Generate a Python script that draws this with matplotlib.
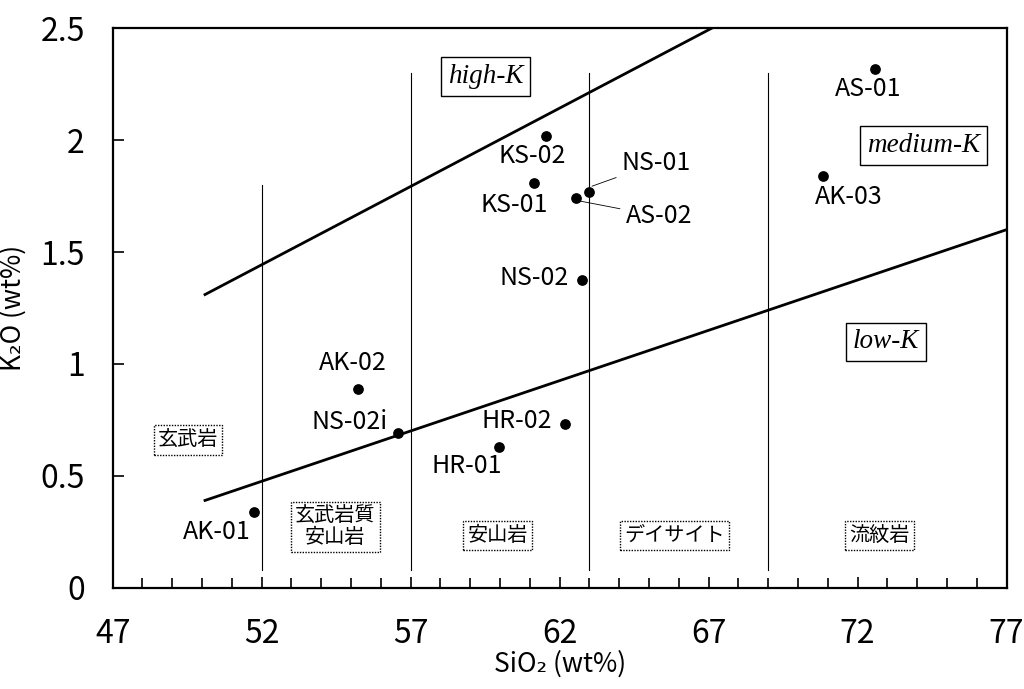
import matplotlib
matplotlib.use("Agg")
import matplotlib.pyplot as plt
from matplotlib.ticker import MultipleLocator

plt.rcParams['font.family'] = ['Noto Sans CJK JP', 'DejaVu Sans']

# sample points: SiO2, K2O
names = ["AS-01", "KS-02", "KS-01", "NS-01", "AS-02", "AK-03",
         "NS-02", "AK-02", "NS-02i", "HR-02", "HR-01", "AK-01"]
sio2 = [72.57, 61.53, 61.13, 62.97, 62.54, 70.83,
        62.74, 55.25, 56.56, 62.17, 59.95, 51.73]
k2o = [2.32, 2.02, 1.81, 1.77, 1.74, 1.84,
       1.375, 0.89, 0.69, 0.73, 0.63, 0.34]

# boundary lines
highk_x = [50.1, 67.1]
highk_y = [1.31, 2.5]
lowk_x = [50.1, 77.0]
lowk_y = [0.39, 1.60]

# rock type dividers: x, top
div_x = [52, 57, 63, 69]
div_top = [1.8, 2.3, 2.3, 2.3]
div_bottom = 0.08

rock_names = ["玄武岩", "玄武岩質\n安山岩", "安山岩", "デイサイト", "流紋岩"]
rock_pos = [(49.52, 0.66), (54.47, 0.27), (59.92, 0.232), (65.86, 0.232), (72.74, 0.232)]

k_names = ["high-K", "medium-K", "low-K"]
k_pos = [(59.52, 2.285), (74.21, 1.975), (72.94, 1.098)]

x_ticks = [47, 52, 57, 62, 67, 72, 77]
y_ticks = [0, 0.5, 1, 1.5, 2, 2.5]
y_tick_labels = ["0", "0.5", "1", "1.5", "2", "2.5"]

fig = plt.figure(figsize=(10.24, 6.89), dpi=100)
ax = fig.add_axes([0.110, 0.147, 0.873, 0.812])

ax.plot(highk_x, highk_y, color="black", lw=2)
ax.plot(lowk_x, lowk_y, color="black", lw=2)
for x, top in zip(div_x, div_top):
    ax.plot([x, x], [div_bottom, top], color="black", lw=0.8)

ax.scatter(sio2, k2o, s=45, color="black", zorder=5)

fs = 18
# label placement (text position, alignment)
lab = {
    "AS-01": (72.35, 2.23, "center"),
    "KS-02": (61.09, 1.93, "center"),
    "KS-01": (60.49, 1.71, "center"),
    "AK-03": (71.7, 1.745, "center"),
    "NS-02": (62.3, 1.384, "right"),
    "AK-02": (55.05, 1.005, "center"),
    "NS-02i": (54.95, 0.74, "center"),
    "HR-02": (61.73, 0.745, "right"),
    "HR-01": (58.88, 0.545, "center"),
    "AK-01": (50.49, 0.25, "center"),
}
for n, x, y in zip(names, sio2, k2o):
    if n in lab:
        tx, ty, ha = lab[n]
        ax.text(tx, ty, n, fontsize=fs, ha=ha, va="center")

# leader lines
ax.annotate("NS-01", xy=(63.0, 1.79), xytext=(64.08, 1.897), fontsize=fs,
            ha="left", va="center",
            arrowprops=dict(arrowstyle="-", lw=0.6, color="black", shrinkA=2, shrinkB=2))
ax.annotate("AS-02", xy=(62.6, 1.73), xytext=(64.21, 1.66), fontsize=fs,
            ha="left", va="center",
            arrowprops=dict(arrowstyle="-", lw=0.6, color="black", shrinkA=2, shrinkB=2))

for t, (x, y) in zip(k_names, k_pos):
    ax.text(x, y, t, fontsize=19.5, ha="center", va="center", style="italic",
            family="Liberation Serif",
            bbox=dict(boxstyle="square,pad=0.25", fc="white", ec="black", lw=1))

for t, (x, y) in zip(rock_names, rock_pos):
    ax.text(x, y, t, fontsize=14.5, ha="center", va="center",
            linespacing=1.0,
            bbox=dict(boxstyle="square,pad=0.2", fc="white", ec="black", lw=1,
                      linestyle=(0, (1, 1))))

ax.set_xlim(47, 77)
ax.set_ylim(0, 2.5)
ax.set_xticks(x_ticks)
ax.xaxis.set_minor_locator(MultipleLocator(1))
ax.set_yticks(y_ticks)
ax.set_yticklabels(y_tick_labels)
ax.tick_params(axis="both", which="both", direction="in", width=1.2)
ax.tick_params(axis="x", which="major", length=8, pad=22, labelsize=23)
ax.tick_params(axis="x", which="minor", length=7)
ax.tick_params(axis="y", which="major", length=8, pad=20, labelsize=23)
for s in ax.spines.values():
    s.set_linewidth(1.6)

ax.set_xlabel("SiO₂ (wt%)", fontsize=19, labelpad=0)
ax.set_ylabel("K₂O (wt%)", fontsize=19, labelpad=10)

fig.savefig("out.png", dpi=100)
